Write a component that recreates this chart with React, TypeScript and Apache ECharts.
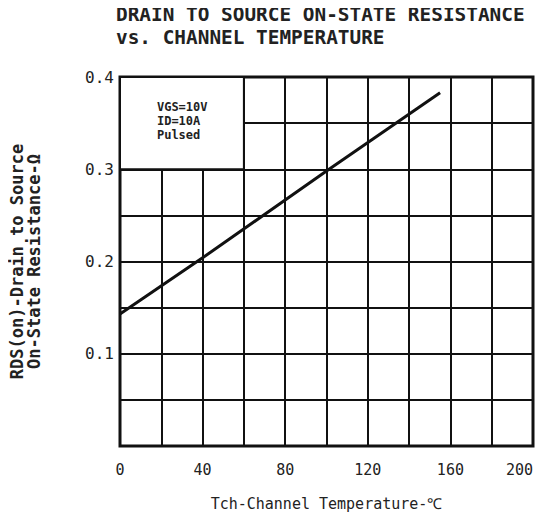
import React, { useEffect, useRef } from "react";
import * as echarts from "echarts";

const titleLines = ["DRAIN TO SOURCE ON-STATE RESISTANCE", "vs. CHANNEL TEMPERATURE"];
const xName = "Tch-Channel Temperature-℃";
const yNameLines = ["RDS(on)-Drain to Source", "On-State Resistance-Ω"];
const conditions = ["VGS=10V", "ID=10A", "Pulsed"];
// channel temperature (°C) vs. resistance (Ω)
const tempC = [0, 40, 100, 155];
const rdsOn = [0.143, 0.204, 0.298, 0.383];
const boxX = [0, 60];
const boxY = [0.3, 0.4];

const FONT = "DejaVu Sans Mono";

export default function App() {
  const ref = useRef<HTMLDivElement>(null);
  useEffect(() => {
    if (!ref.current) return;
    const chart = echarts.init(ref.current, undefined, { renderer: "svg" });
    chart.setOption({
      animation: false,
      backgroundColor: "#ffffff",
      title: {
        text: titleLines.join("\n"),
        left: 116,
        top: 3,
        padding: 0,
        textStyle: { fontFamily: FONT, fontSize: 19.4, fontWeight: "bold", color: "#222", lineHeight: 23 },
      },
      grid: {
        left: 116,
        right: 16,
        top: 77,
        bottom: 71,
        show: true,
        borderColor: "#111",
        borderWidth: 3,
        backgroundColor: "transparent",
      },
      xAxis: {
        type: "value",
        min: 0,
        max: 200,
        interval: 20,
        name: xName,
        nameLocation: "middle",
        nameGap: 50,
        nameTextStyle: { fontFamily: FONT, fontSize: 15, color: "#222" },
        axisLine: { show: false },
        axisTick: { show: false },
        axisLabel: {
          margin: 16,
          fontFamily: FONT,
          fontSize: 15,
          color: "#222",
          alignMaxLabel: "right",
          formatter: (v: number) => (Math.round(v) % 40 === 0 ? String(v) : ""),
        },
        splitLine: { show: true, lineStyle: { color: "#111", width: 2 } },
      },
      yAxis: {
        type: "value",
        min: 0,
        max: 0.4,
        interval: 0.05,
        name: yNameLines.join("\n"),
        nameLocation: "middle",
        nameGap: 78,
        nameRotate: 90,
        nameTextStyle: { fontFamily: FONT, fontSize: 17, fontWeight: "bold", color: "#222", lineHeight: 17 },
        axisLine: { show: false },
        axisTick: { show: false },
        axisLabel: {
          margin: 6,
          fontFamily: FONT,
          fontSize: 16,
          color: "#222",
          formatter: (v: number) => {
            const r = Math.round(v * 100);
            return r > 0 && r % 10 === 0 ? (r / 100).toFixed(1) : "";
          },
        },
        splitLine: { show: true, lineStyle: { color: "#111", width: 2 } },
      },
      series: [
        {
          type: "line",
          data: tempC.map((t, i) => [t, rdsOn[i]]),
          showSymbol: false,
          lineStyle: { color: "#111", width: 3 },
          markArea: {
            silent: true,
            itemStyle: { color: "#ffffff", borderColor: "#111", borderWidth: 2 },
            label: {
              show: true,
              position: "insideTop",
              distance: 24,
              formatter: conditions.join("\n"),
              fontFamily: FONT,
              fontSize: 12,
              fontWeight: "bold",
              color: "#222",
              align: "left",
              lineHeight: 14,
              offset: [-25, 0],
            },
            data: [[{ coord: [boxX[0], boxY[1]] }, { coord: [boxX[1], boxY[0]] }]],
          },
        },
      ],
    });
    return () => chart.dispose();
  }, []);
  return <div ref={ref} style={{ width: 549, height: 517, marginLeft: -8, marginTop: -8 }} />;
}
